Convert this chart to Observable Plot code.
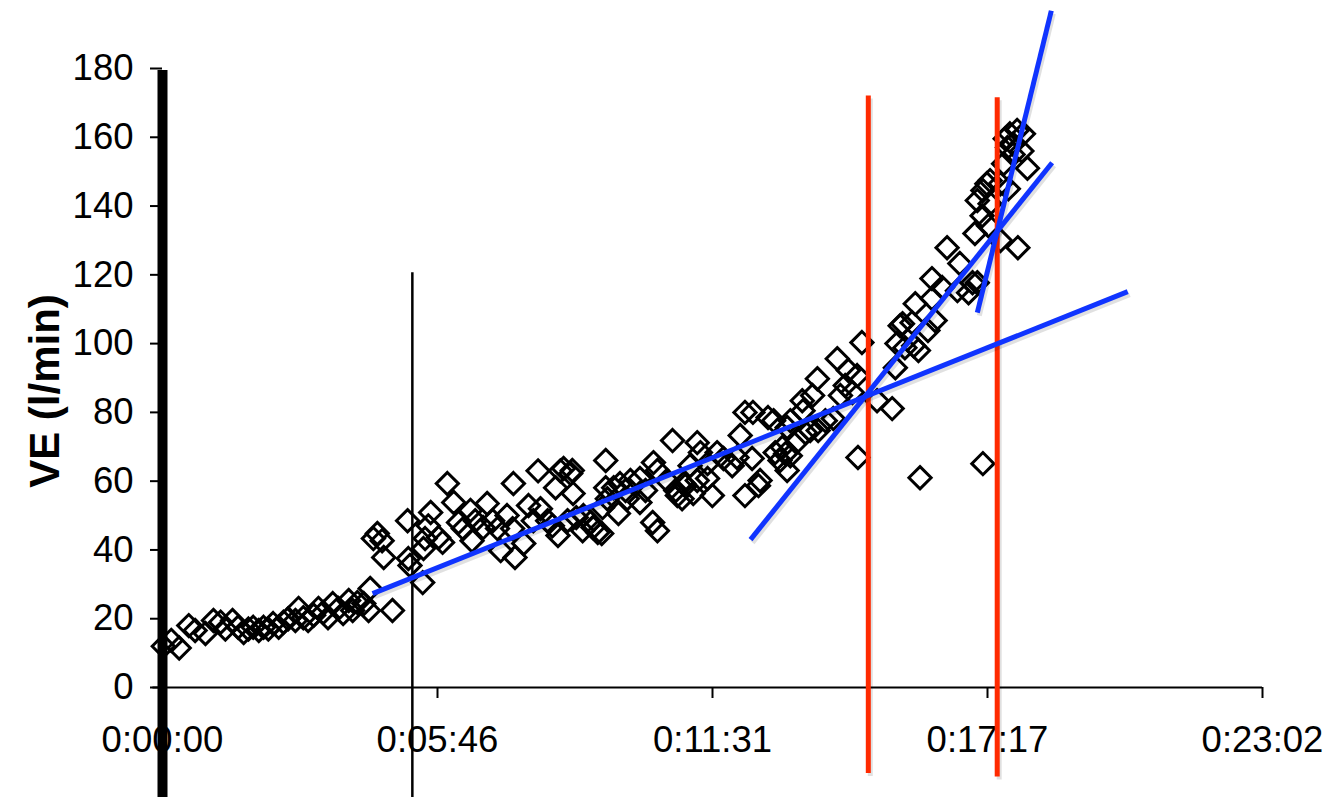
<!DOCTYPE html>
<html><head><meta charset="utf-8">
<script src="https://cdn.jsdelivr.net/npm/d3@7"></script>
<script src="https://cdn.jsdelivr.net/npm/@observablehq/plot@0.6"></script>
<style>html,body{margin:0;padding:0;background:#fff;}</style>
</head><body><div id="chart"></div>
<script>
// Breath-by-breath ventilation: time (seconds) and VE (l/min)
const timeSec = [1,11,21,33,41,54,64,73,79,88,95,102,108,114,121,127,133,139,146,152,158,167,171,177,183,190,196,202,208,214,221,227,234,239,245,253,259,261,265,270,276,278,289,
308,309,311,327,328,330,334,337,347,352,358,366,372,378,387,389,393,403,408,415,421,425,433,440,441,443,454,460,466,472,475,484,490,494,497,500,504,509,513,515,516,520,528,529,538,541,547,552,553,557,557,559,567,573,575,582,584,588,600,600,607,616,617,622,622,634,641,645,647,653,655,657,663,667,672,672,676,685,685,691,697,705,716,722,726,732,732,741,742,749,751,761,768,770,776,779,783,785,785,789,789,799,804,805,808,814,817,823,824,833,843,848,852,858,862,867,873,874,879,898,917,921,923,927,930,933,942,944,946,950,952,962,967,967,971,980,986,999,1002,1013,1018,1021,1024,1024,1030,1031,1031,1036,1038,1040,1040,1053,1053,1057,1059,1062,1063,1065,1069,1069,1074,1075,1080,1082,1087];
const ve = [12,13.7,11.5,18,16.6,15.7,19.5,19,17,19.5,17.5,16,17,17.5,16.6,17.5,17,18.6,17.5,19,20,19.5,23,20.3,19.5,21,23,21.8,20.3,24.4,23,21.5,25.3,22.4,24.7,24.4,22.4,28.8,43.3,44.8,42.7,37.8,22.4,
48.5,37.5,35.5,30.5,40.4,43.3,47,50.9,43.6,42.2,59.3,53.8,48,46.2,51.5,42.7,48.5,46.5,53.5,48.5,46.2,39.8,50,46.2,59.3,37.8,41.9,52.9,48.5,63,52,48.5,47,58.1,44.2,63,63.7,48.5,62.2,63.1,56.4,49.4,45.6,50,48,46.5,45.1,44.8,52.3,58.1,66,54.9,58.1,50.6,59.3,57.3,54.9,60.2,60.8,53.8,57.3,48,65.4,63.1,45.6,60.2,71.8,57.3,55.8,54.9,59.3,58.7,64.5,56.4,71.2,60.2,68.3,65.1,60.8,55.8,68.3,66.6,64.5,66.9,73.3,80,55.8,66.6,80,58.7,60.2,78.5,77.6,68.3,66,69.8,68,75.6,63.1,77.6,67.4,71.8,83.4,80.5,74.1,74.7,84.9,89.8,74.7,77.6,78.2,95.6,84.9,87.8,92.2,85.8,90.7,66.9,100.3,83.4,81.1,93,100,105.2,105.8,98.8,106.1,99.4,111.6,98,61,103.8,113.1,118.9,106.7,116.3,127.9,115.4,123.3,114.8,117.7,132,117.7,141.6,137.2,144.5,65.1,146.5,134.3,147.4,140.7,130,146.5,152.3,159.6,157,145,161,158,155,162,127.9,156,161,151];

// Axis ticks
const xTickValues = [0, 345.6, 691.2, 1036.8, 1382.4];
const xTickLabels = ["0:00:00", "0:05:46", "0:11:31", "0:17:17", "0:23:02"];
const yTickValues = [0, 20, 40, 60, 80, 100, 120, 140, 160, 180];

// Fitted regression segments (time s, VE)
const fitX1 = [264, 739, 1024];
const fitY1 = [27.3, 43.0, 109];
const fitX2 = [1213, 1118, 1117];
const fitY2 = [115.1, 152.6, 196.8];

// Threshold markers (red) and reference markers (black)
const thresholdTime = [887, 1049];
const thresholdTop = [172, 171.5];
const thresholdBottom = [-25, -26];
const refTime = [0, 314];
const refTop = [179.4, 120.6];
const refBottom = [-32, -32];
const refWeight = ["axis", "start"];

const points = timeSec.map((t, i) => ({t, v: ve[i]}));
const fits = fitX1.map((x1, i) => ({x1, y1: fitY1[i], x2: fitX2[i], y2: fitY2[i]}));
const thresholds = thresholdTime.map((x, i) => ({x, y1: thresholdBottom[i], y2: thresholdTop[i]}));
const refs = refTime.map((x, i) => ({x, y1: refBottom[i], y2: refTop[i], kind: refWeight[i]}));

const chart = Plot.plot({
  width: 1330,
  height: 797,
  marginLeft: 162,
  marginRight: 68,
  marginTop: 68,
  marginBottom: 110,
  style: {fontFamily: "'Liberation Sans', Arial, Helvetica, sans-serif", fontSize: "36px", background: "#fff", color: "#000", overflow: "visible"},
  x: {domain: [0, 1382.4]},
  y: {domain: [0, 180]},
  marks: [
    Plot.axisY({ticks: yTickValues, tickSize: 12, tickPadding: 17, fontSize: 36.5, strokeWidth: 2, label: null, tickFormat: d => String(d)}),
    Plot.axisX({ticks: xTickValues, tickSize: 11, tickPadding: 28, fontSize: 36.5, strokeWidth: 2, label: null, tickFormat: d => xTickLabels[xTickValues.indexOf(d)]}),
    Plot.ruleY([0], {x1: -12, x2: 1382.4, stroke: "#000", strokeWidth: 2}),
    Plot.dot(points, {x: "t", y: "v", symbol: "diamond2", r: 10, stroke: "#000", strokeWidth: 3, fill: "none"}),
    Plot.ruleX(refs.filter(d => d.kind === "start"), {x: "x", y1: "y1", y2: "y2", stroke: "#000", strokeWidth: 2.5}),
    Plot.ruleX(refs.filter(d => d.kind === "axis"), {x: "x", y1: "y1", y2: "y2", stroke: "#000", strokeWidth: 10}),
    Plot.ruleX(thresholds, {x: "x", y1: "y1", y2: "y2", stroke: "#000", strokeOpacity: 0.12, strokeWidth: 5, dx: 2, dy: 3}),
    Plot.ruleX(thresholds, {x: "x", y1: "y1", y2: "y2", stroke: "#ff2a00", strokeWidth: 5}),
    Plot.link(fits, {x1: "x1", y1: "y1", x2: "x2", y2: "y2", stroke: "#000", strokeOpacity: 0.12, strokeWidth: 5, dx: 2, dy: 3}),
    Plot.link(fits, {x1: "x1", y1: "y1", x2: "x2", y2: "y2", stroke: "#1034ff", strokeWidth: 5}),
    Plot.text(["VE (l/min)"], {frameAnchor: "left", textAnchor: "middle", lineAnchor: "middle", dx: -117, dy: 13, rotate: -90, fontSize: 42, fontWeight: "bold", fill: "#000"})
  ]
});
document.getElementById("chart").appendChild(chart);
</script>
</body></html>
